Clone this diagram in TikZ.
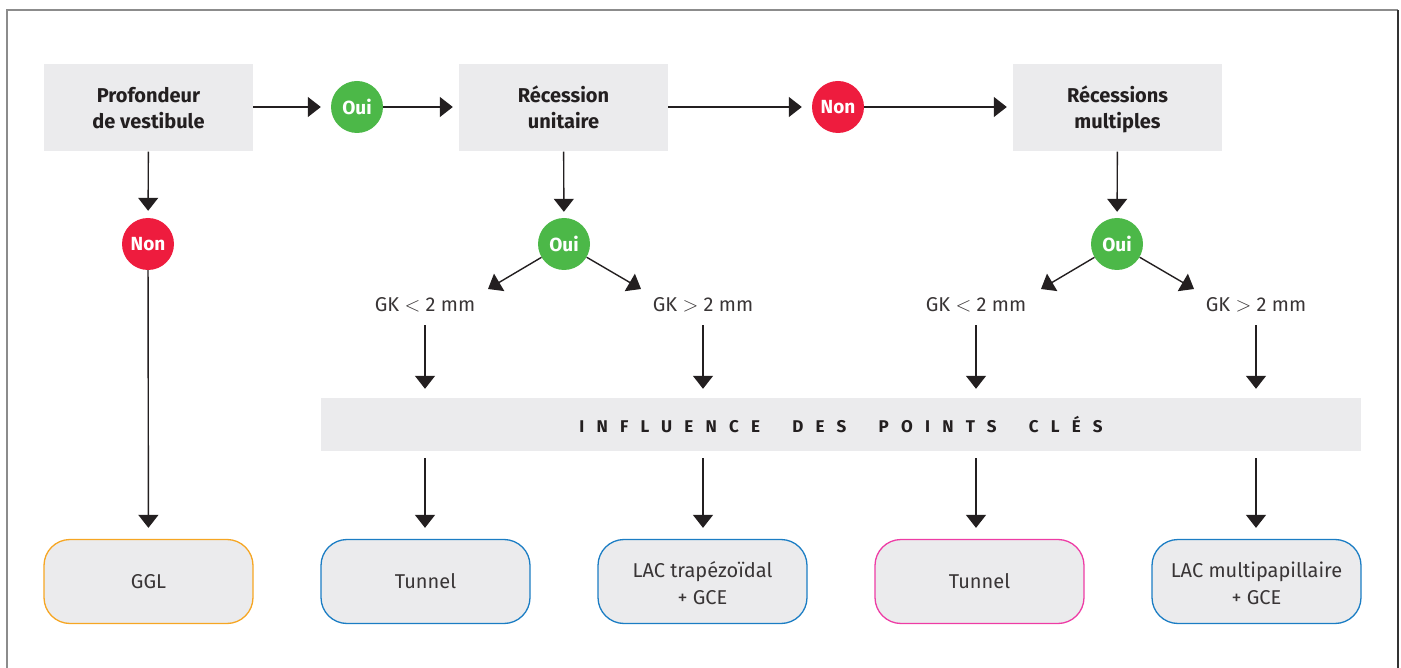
\documentclass[tikz,border=0pt]{standalone}
\usepackage{fontspec}
\setmainfont{Fira Sans}
\usetikzlibrary{arrows.meta}
\definecolor{boxgray}{HTML}{EBEBED}
\definecolor{ink}{HTML}{231F20}
\definecolor{ouigreen}{HTML}{4CB848}
\definecolor{nonred}{HTML}{EE1C3E}
\definecolor{ggl}{HTML}{F6A623}
\definecolor{blueb}{HTML}{1B7DC4}
\definecolor{pinkb}{HTML}{EE3CA5}
\newcommand{\topstrut}{\rule{0pt}{21pt}}
\newcommand{\botstrut}{\rule[-5pt]{0pt}{5pt}}
\newcommand{\etopstrut}{\rule{0pt}{22.5pt}}
\newcommand{\ebotstrut}{\rule[-4.5pt]{0pt}{4.5pt}}
\begin{document}
\begin{tikzpicture}[x=1pt,y=-1pt,
  topbox/.style={fill=boxgray, minimum width=209pt, minimum height=87pt, inner sep=0pt, align=center,
    font=\fontsize{20}{26}\selectfont\bfseries, text=ink},
  bullet/.style={circle, minimum size=52pt, inner sep=0pt, text=white,
    font=\fontsize{19}{20}\selectfont\bfseries},
  endbox/.style={rounded corners=26pt, fill=boxgray, line width=1.3pt, minimum width=209pt,
    minimum height=84pt, inner sep=0pt, align=center, font=\fontsize{20}{27}\selectfont, text=ink!90},
  arr/.style={line width=1.4pt, draw=ink, -{Triangle[width=20pt,length=13pt]}},
  gk/.style={font=\fontsize{20}{22}\selectfont, text=ink!90, inner sep=0pt}
]
\useasboundingbox (0,0) rectangle (1401,668);
% frame
\draw[line width=2pt, draw=black!45] (7,668) -- (7,10.5) -- (1398,10.5);
\draw[line width=2pt, draw=black!80] (1398,10.5) -- (1398,668);

% top row
\node[topbox] (p1) at (148.5,108) {\topstrut Profondeur\\de vestibule\botstrut};
\node[bullet, fill=ouigreen] (o1) at (357,107) {Oui};
\node[topbox] (r1) at (563.5,108) {\topstrut Récession\\unitaire\botstrut};
\node[bullet, fill=nonred] (n1) at (838,107) {Non};
\node[topbox] (r2) at (1117.5,108) {\topstrut Récessions\\multiples\botstrut};

\draw[arr, shorten >=10pt] (p1.east |- o1) -- (o1);
\draw[arr, shorten >=6pt] (o1) -- (o1 -| r1.west);
\draw[arr, shorten >=10pt] (r1.east |- n1) -- (n1);
\draw[arr, shorten >=6pt] (n1) -- (n1 -| r2.west);

% left column
\node[bullet, fill=nonred] (n0) at (148,244) {Non};
\draw[arr, shorten >=7pt] (p1) -- (n0);

% Oui bullets
\node[bullet, fill=ouigreen] (o2) at (564,244) {Oui};
\node[bullet, fill=ouigreen] (o3) at (1117,244) {Oui};
\draw[arr, shorten >=6pt] (r1) -- (o2);
\draw[arr, shorten >=6pt] (r2) -- (o3);

\coordinate (d1) at (488,289);
\coordinate (d2) at (641,289);
\coordinate (d3) at (1041,289);
\coordinate (d4) at (1194,289);
\draw[arr] (o2) -- (d1);
\draw[arr] (o2) -- (d2);
\draw[arr] (o3) -- (d3);
\draw[arr] (o3) -- (d4);

\node[gk] (g1) at (425,305) {GK $<$ 2 mm};
\node[gk] (g2) at (703,305) {GK $>$ 2 mm};
\node[gk] (g3) at (976,305) {GK $<$ 2 mm};
\node[gk] (g4) at (1256,305) {GK $>$ 2 mm};

% banner
\node[fill=boxgray, minimum width=1040pt, minimum height=53pt, inner sep=0pt, text=ink,
  font=\fontsize{17}{20}\selectfont\bfseries\addfontfeature{LetterSpace=72}] (band) at (841,424.5)
  {INFLUENCE\hspace{16pt} DES\hspace{16pt} POINTS\hspace{16pt} CLÉS};

\foreach \g in {g1,g2,g3,g4}{
  \draw[arr, shorten <=13pt, shorten >=9pt] (\g.south) -- (\g.south |- band.north);
}

% end boxes
\node[endbox, draw=ggl] (e0) at (148.5,581.5) {GGL};
\node[endbox, draw=blueb] (e1) at (425.5,581.5) {Tunnel};
\node[endbox, draw=blueb] (e2) at (702.5,581.5) {\etopstrut LAC trapézoïdal\\+ GCE\ebotstrut};
\node[endbox, draw=pinkb] (e3) at (979.5,581.5) {Tunnel};
\node[endbox, draw=blueb] (e4) at (1256.5,581.5) {\etopstrut LAC multipapillaire\\+ GCE\ebotstrut};

\draw[arr, shorten >=11pt] (n0) -- (e0);
\draw[arr, shorten <=7pt, shorten >=11pt] (g1 |- band.south) -- (g1 |- e1.north);
\draw[arr, shorten <=7pt, shorten >=11pt] (g2 |- band.south) -- (g2 |- e2.north);
\draw[arr, shorten <=7pt, shorten >=11pt] (g3 |- band.south) -- (g3 |- e3.north);
\draw[arr, shorten <=7pt, shorten >=11pt] (g4 |- band.south) -- (g4 |- e4.north);
\end{tikzpicture}
\end{document}
